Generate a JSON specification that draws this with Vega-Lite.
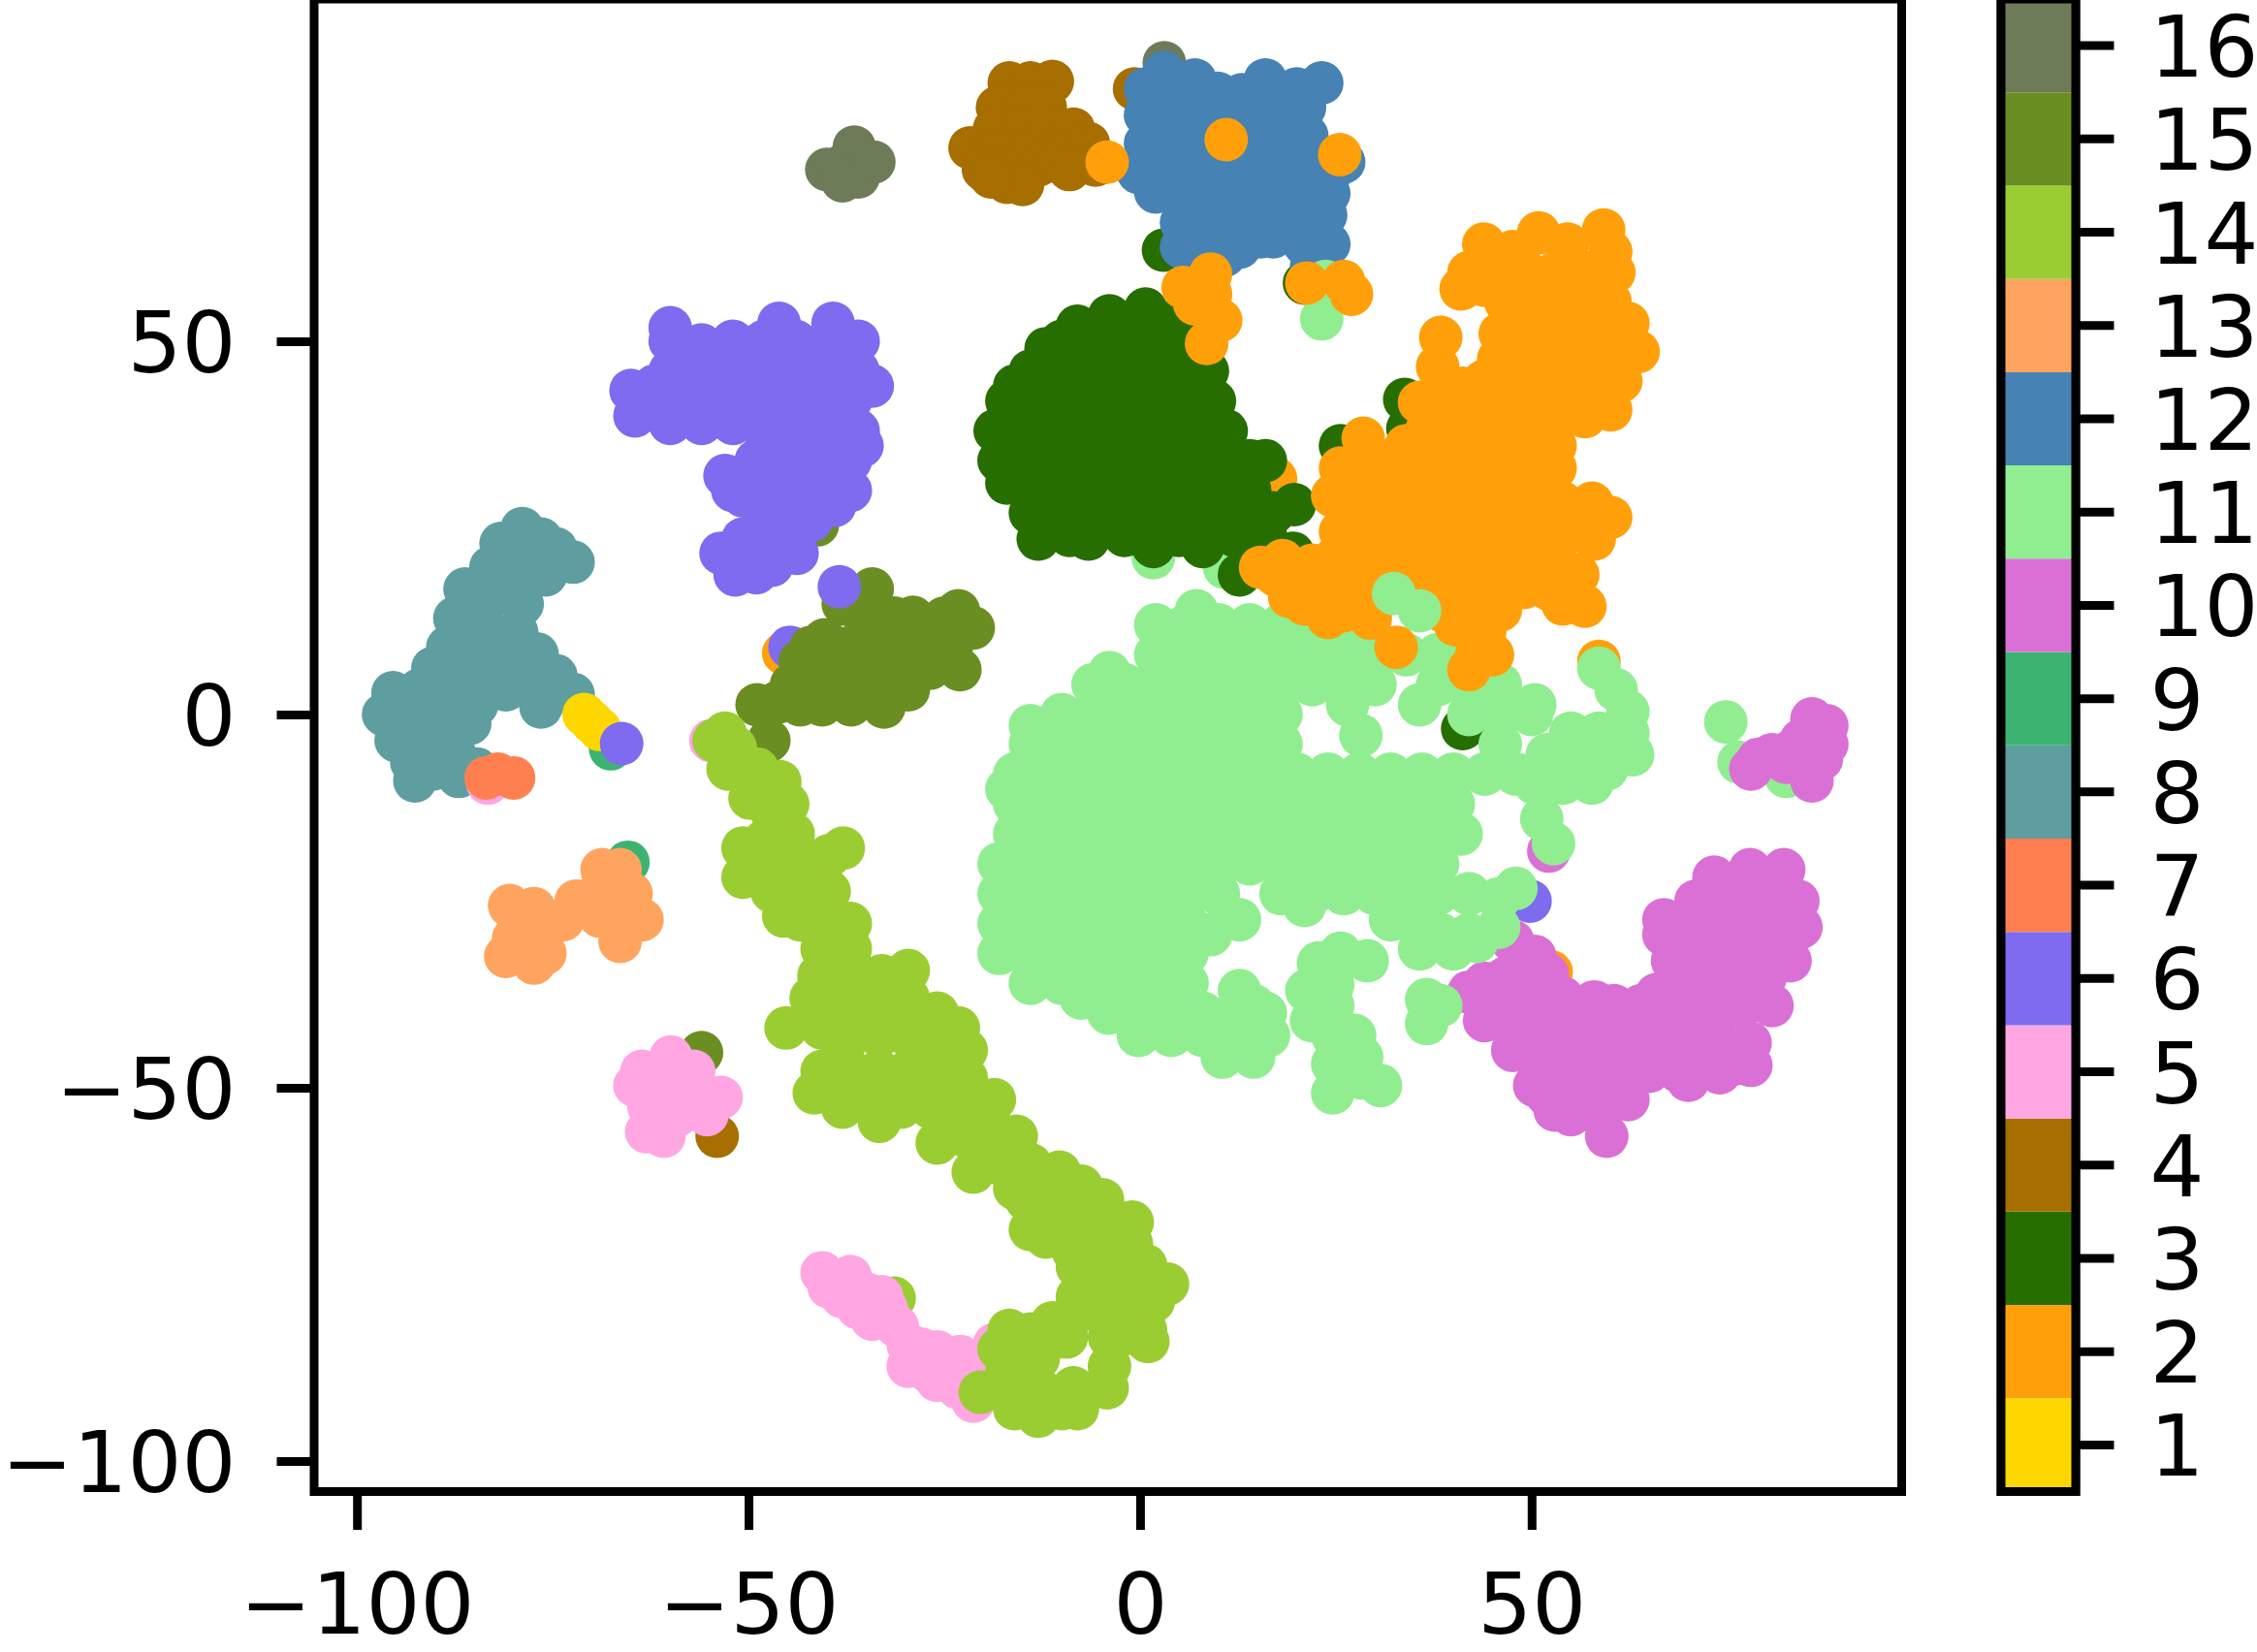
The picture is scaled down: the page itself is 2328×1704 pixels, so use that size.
{"$schema":"https://vega.github.io/schema/vega-lite/v6.json","background":"white","padding":{"left":-4,"top":-10,"right":0,"bottom":0},"bounds":"flush","spacing":102,
"config":{"axis":{"labelFont":"DejaVu Sans","labelFontSize":88,"labelColor":"black","labelLimit":500,"domain":false,"grid":false,"tickColor":"black","tickWidth":9,"tickSize":39,"title":null,"tickRound":false},"view":{"stroke":"black","strokeWidth":9}},
"hconcat":[
{"width":1637.5,"height":1539.5,
"data":{"values":[
{"c":8,"x":-78.9,"y":24.9},{"c":8,"x":-81.6,"y":22.9},{"c":8,"x":-76.5,"y":23.5},{"c":8,"x":-72.4,"y":20.4},{"c":8,"x":-74.6,"y":22.2},{"c":8,"x":-82.9,"y":19.7},{"c":8,"x":-79.2,"y":19.7},{"c":8,"x":-75.9,"y":18.7},{"c":8,"x":-86.2,"y":16.8},{"c":8,"x":-82.9,"y":15.8},{"c":8,"x":-78.9,"y":14.8},{"c":8,"x":-87.5,"y":12.9},{"c":8,"x":-83.8,"y":11.9},{"c":8,"x":-79.6,"y":11},{"c":8,"x":-88.4,"y":9},{"c":8,"x":-84.7,"y":8.1},{"c":8,"x":-81,"y":8.1},{"c":8,"x":-77,"y":8.1},{"c":8,"x":-90.3,"y":6.2},{"c":8,"x":-86.2,"y":5.2},{"c":8,"x":-81.9,"y":5.2},{"c":8,"x":-78.3,"y":5.2},{"c":8,"x":-74.6,"y":5.2},{"c":8,"x":-95.4,"y":2.9},{"c":8,"x":-92,"y":3.3},{"c":8,"x":-88.4,"y":2.3},{"c":8,"x":-84.7,"y":1.3},{"c":8,"x":-81,"y":3.3},{"c":8,"x":-72.4,"y":2.7},{"c":8,"x":-76.5,"y":1},{"c":8,"x":-96.6,"y":0},{"c":8,"x":-93,"y":-0.6},{"c":8,"x":-89.3,"y":-1.5},{"c":8,"x":-85.6,"y":-1.2},{"c":8,"x":-95,"y":-3.5},{"c":8,"x":-91.2,"y":-4.4},{"c":8,"x":-87.5,"y":-5.4},{"c":8,"x":-93,"y":-6.4},{"c":8,"x":-92.6,"y":-8.9},{"c":8,"x":-87,"y":-8.3},{"c":8,"x":-84.7,"y":-7.3},{"c":8,"x":-90.3,"y":-7.3},
{"c":5,"x":-83.3,"y":-9.2},{"c":7,"x":-83.5,"y":-8.5},{"c":7,"x":-82,"y":-8},{"c":7,"x":-80,"y":-8.5},
{"c":9,"x":-67.6,"y":-4.6},{"c":1,"x":-71,"y":0},{"c":1,"x":-70,"y":-1},{"c":1,"x":-69,"y":-2},{"c":6,"x":-66.2,"y":-3.9},
{"c":16,"x":-40,"y":73},{"c":16,"x":-38,"y":73.5},{"c":16,"x":-36.5,"y":76},{"c":16,"x":-36,"y":72},{"c":16,"x":-34,"y":74},{"c":16,"x":-38,"y":71.5},{"c":16,"x":3.1,"y":87.3},
{"c":9,"x":-65.4,"y":-19.8},
{"c":13,"x":-80.5,"y":-25.6},{"c":13,"x":-77.4,"y":-26},{"c":13,"x":-76.5,"y":-29.5},{"c":13,"x":-77.4,"y":-33.3},{"c":13,"x":-81,"y":-32.4},{"c":13,"x":-78.9,"y":-30.4},{"c":13,"x":-73.7,"y":-27.5},{"c":13,"x":-68.7,"y":-20.8},{"c":13,"x":-66.4,"y":-20.8},{"c":13,"x":-70,"y":-24.7},{"c":13,"x":-66.4,"y":-24},{"c":13,"x":-63.6,"y":-27.5},{"c":13,"x":-66.4,"y":-30.4},{"c":13,"x":-66.4,"y":-27.5},{"c":13,"x":-79.5,"y":-27},{"c":13,"x":-76,"y":-32},{"c":13,"x":-72,"y":-25},{"c":13,"x":-69,"y":-27},{"c":13,"x":-65,"y":-24},{"c":13,"x":-80,"y":-30},
{"c":15,"x":-41.2,"y":25.4},
{"c":6,"x":-60,"y":51.8},{"c":6,"x":-46.1,"y":52.4},{"c":6,"x":-39.2,"y":52.4},{"c":6,"x":-60,"y":50},{"c":6,"x":-56,"y":49.5},{"c":6,"x":-52,"y":50},{"c":6,"x":-48,"y":50},{"c":6,"x":-44,"y":50},{"c":6,"x":-40,"y":50},{"c":6,"x":-36,"y":50},{"c":6,"x":-60,"y":46},{"c":6,"x":-56,"y":46},{"c":6,"x":-52,"y":46},{"c":6,"x":-48,"y":46},{"c":6,"x":-44,"y":46},{"c":6,"x":-40,"y":46},{"c":6,"x":-36,"y":46},{"c":6,"x":-65,"y":43.4},{"c":6,"x":-62,"y":44},{"c":6,"x":-61,"y":42},{"c":6,"x":-57,"y":42},{"c":6,"x":-53,"y":42},{"c":6,"x":-49,"y":42},{"c":6,"x":-45,"y":42},{"c":6,"x":-41,"y":42},{"c":6,"x":-37,"y":42},{"c":6,"x":-34.2,"y":44},{"c":6,"x":-64.5,"y":40},{"c":6,"x":-60,"y":39},{"c":6,"x":-56,"y":39},{"c":6,"x":-52,"y":39},{"c":6,"x":-48,"y":38},{"c":6,"x":-44,"y":38},{"c":6,"x":-40,"y":38},{"c":6,"x":-36,"y":38},{"c":6,"x":-49,"y":34},{"c":6,"x":-45,"y":34},{"c":6,"x":-41,"y":34},{"c":6,"x":-37,"y":34},{"c":6,"x":-35.5,"y":36},{"c":6,"x":-53,"y":32},{"c":6,"x":-52,"y":30},{"c":6,"x":-48,"y":30},{"c":6,"x":-44,"y":30},{"c":6,"x":-40,"y":30},{"c":6,"x":-37,"y":30},{"c":6,"x":-50.7,"y":29.3},{"c":6,"x":-48,"y":26},{"c":6,"x":-46,"y":26},{"c":6,"x":-42,"y":26},{"c":6,"x":-39,"y":28},{"c":6,"x":-43.8,"y":21.6},{"c":6,"x":-53.5,"y":21.6},{"c":6,"x":-51.7,"y":18.7},{"c":6,"x":-49.8,"y":20.6},{"c":6,"x":-47,"y":23.5},{"c":6,"x":-45.2,"y":24.5},{"c":6,"x":-50.7,"y":23.5},{"c":6,"x":-47,"y":20},{"c":6,"x":-49,"y":19},{"c":6,"x":-52,"y":21},
{"c":2,"x":-45.5,"y":8.2},{"c":6,"x":-44.7,"y":9},
{"c":15,"x":-48.9,"y":1.3},{"c":15,"x":-46.1,"y":1.7},{"c":15,"x":-43.4,"y":1.3},{"c":15,"x":-42.5,"y":4.2},{"c":15,"x":-39.7,"y":5.2},{"c":15,"x":-40.3,"y":10},{"c":15,"x":-37.9,"y":14.8},{"c":15,"x":-34.2,"y":16.8},{"c":15,"x":-35.1,"y":12.9},{"c":15,"x":-31.4,"y":12.9},{"c":15,"x":-36.9,"y":9},{"c":15,"x":-33.3,"y":9},{"c":15,"x":-29.6,"y":10},{"c":15,"x":-25,"y":12.9},{"c":15,"x":-23.2,"y":13.9},{"c":15,"x":-21.3,"y":11.6},{"c":15,"x":-24.1,"y":9},{"c":15,"x":-26.8,"y":6.2},{"c":15,"x":-30.5,"y":5.2},{"c":15,"x":-34.2,"y":4.2},{"c":15,"x":-36.9,"y":5.2},{"c":15,"x":-36.9,"y":1.3},{"c":15,"x":-32.7,"y":1},{"c":15,"x":-29.6,"y":3.3},{"c":15,"x":-40.6,"y":1.3},{"c":15,"x":-43.4,"y":7.1},{"c":15,"x":-42,"y":9},{"c":15,"x":-27,"y":9},{"c":15,"x":-31,"y":9},{"c":15,"x":-47.4,"y":-3.5},{"c":15,"x":-41,"y":7},{"c":15,"x":-44.5,"y":4},{"c":15,"x":-35,"y":3},{"c":15,"x":-28,"y":6},{"c":15,"x":-23,"y":6},{"c":15,"x":-29,"y":13},{"c":15,"x":-27,"y":11.5},{"c":6,"x":-38.4,"y":17.1},
{"c":15,"x":-56,"y":-45.3},{"c":4,"x":-54,"y":-56.5},
{"c":5,"x":-63.6,"y":-47.8},{"c":5,"x":-59.9,"y":-45.9},{"c":5,"x":-64.5,"y":-49.7},{"c":5,"x":-60.8,"y":-49.7},{"c":5,"x":-57,"y":-50.7},{"c":5,"x":-53.5,"y":-51.3},{"c":5,"x":-62.7,"y":-52.6},{"c":5,"x":-59,"y":-53.6},{"c":5,"x":-63,"y":-55.9},{"c":5,"x":-60.8,"y":-56.5},{"c":5,"x":-55.3,"y":-53.6},{"c":5,"x":-57,"y":-47.8},
{"c":14,"x":-31.4,"y":-78.2},{"c":5,"x":-54.8,"y":-3.5},
{"c":5,"x":-40.6,"y":-74.8},{"c":5,"x":-37,"y":-75.3},{"c":5,"x":-39.7,"y":-76.7},{"c":5,"x":-35,"y":-77.6},{"c":5,"x":-32.4,"y":-79.6},{"c":5,"x":-34.2,"y":-81},{"c":5,"x":-29.6,"y":-84.4},{"c":5,"x":-25.9,"y":-85.4},{"c":5,"x":-29.6,"y":-87.3},{"c":5,"x":-25.9,"y":-89.2},{"c":5,"x":-23.2,"y":-90.2},{"c":5,"x":-21.3,"y":-92},{"c":5,"x":-18.6,"y":-84.4},{"c":5,"x":-21.5,"y":-87},{"c":5,"x":-38,"y":-78},{"c":5,"x":-33,"y":-78},{"c":5,"x":-31,"y":-82},{"c":5,"x":-27,"y":-88},{"c":5,"x":-24,"y":-88},{"c":5,"x":-28,"y":-85},{"c":5,"x":-23,"y":-86},{"c":5,"x":-36,"y":-79.5},
{"c":14,"x":-54.4,"y":-3.5},{"c":14,"x":-51.7,"y":-4.4},{"c":14,"x":-53,"y":-2.5},{"c":14,"x":-52.6,"y":-7.3},{"c":14,"x":-48.9,"y":-7.3},{"c":14,"x":-46,"y":-9},{"c":14,"x":-45,"y":-12},{"c":14,"x":-49.8,"y":-11.2},{"c":14,"x":-47,"y":-13.1},{"c":14,"x":-50.7,"y":-17.9},{"c":14,"x":-48,"y":-17},{"c":14,"x":-44.3,"y":-16},{"c":14,"x":-50.7,"y":-21.8},{"c":14,"x":-48,"y":-20.8},{"c":14,"x":-46,"y":-20},{"c":14,"x":-41.5,"y":-21},{"c":14,"x":-43.4,"y":-19.8},{"c":14,"x":-39.7,"y":-18.9},{"c":14,"x":-37.9,"y":-17.9},{"c":14,"x":-47,"y":-23.7},{"c":14,"x":-43.4,"y":-24.7},{"c":14,"x":-39.7,"y":-23.7},{"c":14,"x":-45.5,"y":-27},{"c":14,"x":-43.4,"y":-27.5},{"c":14,"x":-39.7,"y":-27.5},{"c":14,"x":-37,"y":-28},{"c":14,"x":-40.6,"y":-31.4},{"c":14,"x":-37,"y":-31.4},{"c":14,"x":-38.8,"y":-35.3},{"c":14,"x":-41,"y":-35},{"c":14,"x":-42,"y":-38},{"c":14,"x":-35,"y":-35.3},{"c":14,"x":-33,"y":-35},{"c":14,"x":-31.4,"y":-35.3},{"c":14,"x":-29.6,"y":-34.3},{"c":14,"x":-45.2,"y":-42},{"c":14,"x":-39.7,"y":-39},{"c":14,"x":-40.6,"y":-42},{"c":14,"x":-37,"y":-39},{"c":14,"x":-33.3,"y":-39},{"c":14,"x":-29.6,"y":-38},{"c":14,"x":-25.9,"y":-40},{"c":14,"x":-23.2,"y":-42},{"c":14,"x":-37,"y":-43},{"c":14,"x":-33.3,"y":-43},{"c":14,"x":-29.6,"y":-43},{"c":14,"x":-25.9,"y":-44},{"c":14,"x":-22.2,"y":-45},{"c":14,"x":-38,"y":-45},{"c":14,"x":-31,"y":-41},{"c":14,"x":-27,"y":-41},{"c":14,"x":-41.6,"y":-50.7},{"c":14,"x":-40.6,"y":-47.8},{"c":14,"x":-37,"y":-47.8},{"c":14,"x":-33.3,"y":-47.8},{"c":14,"x":-29.6,"y":-47.8},{"c":14,"x":-25.9,"y":-47.8},{"c":14,"x":-22.2,"y":-48.7},{"c":14,"x":-18.6,"y":-51.6},{"c":14,"x":-38,"y":-52.6},{"c":14,"x":-34.2,"y":-52.6},{"c":14,"x":-33.3,"y":-54.5},{"c":14,"x":-30.5,"y":-52.6},{"c":14,"x":-26.8,"y":-52.6},{"c":14,"x":-23.2,"y":-52.6},{"c":14,"x":-19.5,"y":-53.6},{"c":14,"x":-25.9,"y":-57.4},{"c":14,"x":-22.2,"y":-56.5},{"c":14,"x":-18.6,"y":-56.5},{"c":14,"x":-15.8,"y":-56.5},{"c":14,"x":-21.3,"y":-61.3},{"c":14,"x":-19,"y":-59},{"c":14,"x":-17.6,"y":-60.3},{"c":14,"x":-14,"y":-60.3},{"c":14,"x":-10.3,"y":-61.3},{"c":14,"x":-16,"y":-63.5},{"c":14,"x":-14,"y":-69},{"c":14,"x":-14.5,"y":-65},{"c":14,"x":-11.2,"y":-64.2},{"c":14,"x":-7.5,"y":-63.2},{"c":14,"x":-4.8,"y":-65},{"c":14,"x":-8,"y":-66},{"c":14,"x":-10.3,"y":-68},{"c":14,"x":-6.6,"y":-68},{"c":14,"x":-2.9,"y":-68},{"c":14,"x":-1,"y":-68},{"c":14,"x":-5,"y":-69},{"c":14,"x":-12,"y":-70},{"c":14,"x":-8.5,"y":-71.9},{"c":14,"x":-4.8,"y":-71.9},{"c":14,"x":-1.1,"y":-70.9},{"c":14,"x":0.7,"y":-73.8},{"c":14,"x":-8,"y":-74},{"c":14,"x":-5.7,"y":-75.7},{"c":14,"x":-2,"y":-75.7},{"c":14,"x":0,"y":-76},{"c":14,"x":3.5,"y":-76.3},{"c":14,"x":1.7,"y":-78.6},{"c":14,"x":-6,"y":-78},{"c":14,"x":-8,"y":-80},{"c":14,"x":-8,"y":-78},{"c":14,"x":-4.8,"y":-79.6},{"c":14,"x":-1.1,"y":-79.6},{"c":14,"x":0.7,"y":-82.5},{"c":14,"x":-2,"y":-83},{"c":14,"x":1,"y":-84},{"c":14,"x":-3.9,"y":-83.4},{"c":14,"x":-3.9,"y":-87.3},{"c":14,"x":-4.2,"y":-90.2},{"c":14,"x":-8.5,"y":-90.2},{"c":14,"x":-11.2,"y":-81.5},{"c":14,"x":-14,"y":-83},{"c":14,"x":-16.7,"y":-82.5},{"c":14,"x":-9.4,"y":-83.4},{"c":14,"x":-12,"y":-84},{"c":14,"x":-13,"y":-86.3},{"c":14,"x":-13,"y":-90.2},{"c":14,"x":-15.8,"y":-90.2},{"c":14,"x":-13,"y":-94},{"c":14,"x":-20.4,"y":-90.8},{"c":14,"x":-18,"y":-85},{"c":14,"x":-17,"y":-88},{"c":14,"x":-10,"y":-93},{"c":14,"x":-8,"y":-93},{"c":14,"x":-16,"y":-93},
{"c":4,"x":-16.7,"y":84.6},{"c":4,"x":-14,"y":84.6},{"c":4,"x":-11.2,"y":84.8},{"c":4,"x":-18.2,"y":81.3},{"c":4,"x":-14.9,"y":81.3},{"c":4,"x":-12.1,"y":81.3},{"c":4,"x":-18.6,"y":78.4},{"c":4,"x":-14.9,"y":78.4},{"c":4,"x":-11.2,"y":78.4},{"c":4,"x":-8.5,"y":78.4},{"c":4,"x":-6.6,"y":76.5},{"c":4,"x":-21.7,"y":75.9},{"c":4,"x":-18.6,"y":75.5},{"c":4,"x":-14.9,"y":75},{"c":4,"x":-11.2,"y":75},{"c":4,"x":-8.5,"y":75.5},{"c":4,"x":-20,"y":73},{"c":4,"x":-16.7,"y":72.6},{"c":4,"x":-13,"y":73.6},{"c":4,"x":-10.3,"y":74},{"c":4,"x":-17,"y":71.3},{"c":4,"x":-5.7,"y":73.6},{"c":4,"x":-0.7,"y":83.8},{"c":4,"x":-15,"y":71},{"c":4,"x":-19,"y":72},{"c":4,"x":-9,"y":73},
{"c":2,"x":17.3,"y":31.6},{"c":3,"x":41.2,"y":-1.9},{"c":3,"x":3,"y":62.2},{"c":3,"x":21,"y":57.8},{"c":3,"x":33.8,"y":42.2},{"c":3,"x":34.2,"y":38.3},{"c":3,"x":25.6,"y":36},{"c":3,"x":8,"y":51.8},
{"c":6,"x":49.8,"y":-25},{"c":2,"x":58.6,"y":7.1},{"c":2,"x":52.5,"y":-34.5},{"c":10,"x":52,"y":-34.8},{"c":10,"x":52.2,"y":-18.3},
{"c":10,"x":47.6,"y":-30.4},{"c":10,"x":50.4,"y":-32.4},{"c":10,"x":46.7,"y":-35.3},{"c":10,"x":50.4,"y":-36.2},{"c":10,"x":42,"y":-37.2},{"c":10,"x":44.9,"y":-38.2},{"c":10,"x":52,"y":-39},{"c":10,"x":44,"y":-41},{"c":10,"x":47.6,"y":-41},{"c":10,"x":50.4,"y":-42},{"c":10,"x":55,"y":-42},{"c":10,"x":58.6,"y":-41},{"c":10,"x":62.3,"y":-40},{"c":10,"x":66,"y":-40},{"c":10,"x":69.7,"y":-38},{"c":10,"x":47.6,"y":-45},{"c":10,"x":51.3,"y":-46},{"c":10,"x":55,"y":-46},{"c":10,"x":58.6,"y":-45},{"c":10,"x":62.3,"y":-45},{"c":10,"x":66,"y":-44},{"c":10,"x":69.7,"y":-43},{"c":10,"x":73.3,"y":-42},{"c":10,"x":50.4,"y":-49.7},{"c":10,"x":54,"y":-49.7},{"c":10,"x":57.7,"y":-49.7},{"c":10,"x":61.4,"y":-48.7},{"c":10,"x":65,"y":-47.8},{"c":10,"x":68.8,"y":-47.8},{"c":10,"x":72.4,"y":-46},{"c":10,"x":76.1,"y":-46.8},{"c":10,"x":77.9,"y":-44},{"c":10,"x":55,"y":-53.6},{"c":10,"x":58.6,"y":-53.6},{"c":10,"x":62.3,"y":-51.6},{"c":10,"x":59.6,"y":-56.5},{"c":10,"x":80.7,"y":-39},{"c":10,"x":77,"y":-39},{"c":10,"x":73.3,"y":-39},{"c":10,"x":79.8,"y":-35.3},{"c":10,"x":76.1,"y":-35.3},{"c":10,"x":72.4,"y":-35.3},{"c":10,"x":68.8,"y":-34.3},{"c":10,"x":82.5,"y":-31.4},{"c":10,"x":78.8,"y":-31.4},{"c":10,"x":75.2,"y":-31.4},{"c":10,"x":71.5,"y":-31.4},{"c":10,"x":84.4,"y":-28.5},{"c":10,"x":80.7,"y":-27.5},{"c":10,"x":77,"y":-27.5},{"c":10,"x":73.3,"y":-27.5},{"c":10,"x":66.9,"y":-27.5},{"c":10,"x":66.9,"y":-29.5},{"c":10,"x":73.3,"y":-23.7},{"c":10,"x":73.3,"y":-21.8},{"c":10,"x":77.9,"y":-20.8},{"c":10,"x":82.2,"y":-20.8},{"c":10,"x":78.8,"y":-24},{"c":10,"x":82.5,"y":-25.6},{"c":10,"x":60.5,"y":-39},
{"c":10,"x":54,"y":-38},{"c":10,"x":58,"y":-38.5},{"c":10,"x":64,"y":-39},{"c":10,"x":66,"y":-37.5},{"c":10,"x":74,"y":-48},{"c":10,"x":70,"y":-49},{"c":10,"x":78,"y":-47},{"c":10,"x":83,"y":-33},{"c":10,"x":70,"y":-39},{"c":10,"x":68,"y":-33},{"c":10,"x":64,"y":-42},{"c":10,"x":46,"y":-39},{"c":10,"x":44,"y":-36},{"c":10,"x":58,"y":-51},{"c":10,"x":53,"y":-53},{"c":10,"x":52,"y":-51},{"c":10,"x":68,"y":-30},{"c":10,"x":70,"y":-28.5},{"c":10,"x":71,"y":-25},{"c":10,"x":76,"y":-23},{"c":10,"x":81,"y":-22},{"c":10,"x":84,"y":-25},
{"c":11,"x":74.8,"y":-1},{"c":11,"x":76.5,"y":-6.4},{"c":11,"x":82.5,"y":-8.3},
{"c":10,"x":78,"y":-7.3},{"c":10,"x":80.7,"y":-5.4},{"c":10,"x":84.4,"y":-3.5},{"c":10,"x":85.8,"y":-0.6},{"c":10,"x":87.7,"y":-1.5},{"c":10,"x":87.7,"y":-4},{"c":10,"x":85.3,"y":-6.4},{"c":10,"x":85.8,"y":-8.9},{"c":10,"x":82.5,"y":-6.4},{"c":10,"x":79,"y":-6},{"c":10,"x":83,"y":-5},{"c":10,"x":87,"y":-6},
{"c":11,"x":1.7,"y":21},{"c":11,"x":10.8,"y":19.7},{"c":11,"x":16.4,"y":21.6},{"c":11,"x":12.7,"y":19.7},
{"c":11,"x":7.2,"y":13.9},{"c":11,"x":2,"y":12},{"c":11,"x":6,"y":12},{"c":11,"x":10,"y":12},{"c":11,"x":14,"y":12},{"c":11,"x":18,"y":12},{"c":11,"x":22,"y":12},{"c":11,"x":26,"y":12},
{"c":11,"x":-3.9,"y":5.6},{"c":11,"x":2,"y":8},{"c":11,"x":6,"y":8},{"c":11,"x":10,"y":8},{"c":11,"x":14,"y":8},{"c":11,"x":18,"y":8},{"c":11,"x":22,"y":8},{"c":11,"x":26,"y":8},{"c":11,"x":30,"y":8},{"c":11,"x":34,"y":8},{"c":11,"x":38,"y":8},{"c":11,"x":42,"y":8},
{"c":11,"x":-6,"y":4},{"c":11,"x":-2,"y":4},{"c":11,"x":2,"y":4},{"c":11,"x":6,"y":4},{"c":11,"x":10,"y":4},{"c":11,"x":14,"y":4},{"c":11,"x":18,"y":4},{"c":11,"x":22,"y":4},{"c":11,"x":26,"y":4},{"c":11,"x":30,"y":4},{"c":11,"x":38,"y":4},{"c":11,"x":42,"y":4},{"c":11,"x":46,"y":4},
{"c":11,"x":-14,"y":-1.5},{"c":11,"x":-10,"y":0},{"c":11,"x":-6,"y":0},{"c":11,"x":-2,"y":0},{"c":11,"x":2,"y":0},{"c":11,"x":6,"y":0},{"c":11,"x":10,"y":0},{"c":11,"x":14,"y":0},{"c":11,"x":18,"y":0},{"c":11,"x":26.5,"y":1.3},{"c":11,"x":35.7,"y":1.3},{"c":11,"x":42,"y":0},{"c":11,"x":46,"y":0},{"c":11,"x":50,"y":0},{"c":11,"x":50.4,"y":1.3},
{"c":11,"x":58.6,"y":6.2},{"c":11,"x":60.8,"y":3.3},{"c":11,"x":62.3,"y":0.4},{"c":11,"x":62.3,"y":-2.5},{"c":11,"x":62.9,"y":-5.4},{"c":11,"x":55,"y":-2.5},{"c":11,"x":58.6,"y":-2.5},{"c":11,"x":52,"y":-5.4},{"c":11,"x":55.9,"y":-6.4},{"c":11,"x":59.6,"y":-7.3},{"c":11,"x":50.4,"y":-9.2},{"c":11,"x":54,"y":-9.2},{"c":11,"x":57.7,"y":-9.2},{"c":11,"x":51.3,"y":-14},{"c":11,"x":52.8,"y":-17.3},
{"c":11,"x":-14,"y":-4},{"c":11,"x":-10,"y":-4},{"c":11,"x":-6,"y":-4},{"c":11,"x":-2,"y":-4},{"c":11,"x":2,"y":-4},{"c":11,"x":6,"y":-4},{"c":11,"x":10,"y":-4},{"c":11,"x":14,"y":-4},{"c":11,"x":18,"y":-4},{"c":11,"x":28.2,"y":-2.8},{"c":11,"x":46,"y":-4},
{"c":11,"x":-16,"y":-8},{"c":11,"x":-12,"y":-8},{"c":11,"x":-8,"y":-8},{"c":11,"x":-4,"y":-8},{"c":11,"x":0,"y":-8},{"c":11,"x":4,"y":-8},{"c":11,"x":8,"y":-8},{"c":11,"x":12,"y":-8},{"c":11,"x":16,"y":-8},{"c":11,"x":20,"y":-8},{"c":11,"x":24,"y":-8},{"c":11,"x":28,"y":-8},{"c":11,"x":32,"y":-8},{"c":11,"x":36,"y":-8},{"c":11,"x":40,"y":-8},{"c":11,"x":44,"y":-8},{"c":11,"x":48,"y":-8},
{"c":11,"x":-17,"y":-10},{"c":11,"x":-16,"y":-12},{"c":11,"x":-12,"y":-12},{"c":11,"x":-8,"y":-12},{"c":11,"x":-4,"y":-12},{"c":11,"x":0,"y":-12},{"c":11,"x":4,"y":-12},{"c":11,"x":8,"y":-12},{"c":11,"x":12,"y":-12},{"c":11,"x":16,"y":-12},{"c":11,"x":20,"y":-12},{"c":11,"x":24,"y":-12},{"c":11,"x":28,"y":-12},{"c":11,"x":32,"y":-12},{"c":11,"x":36,"y":-12},{"c":11,"x":40,"y":-12},
{"c":11,"x":-16,"y":-16},{"c":11,"x":-12,"y":-16},{"c":11,"x":-8,"y":-16},{"c":11,"x":-4,"y":-16},{"c":11,"x":0,"y":-16},{"c":11,"x":4,"y":-16},{"c":11,"x":7,"y":-16},{"c":11,"x":10,"y":-16},{"c":11,"x":14,"y":-16},{"c":11,"x":18,"y":-16},{"c":11,"x":22,"y":-16},{"c":11,"x":26,"y":-16},{"c":11,"x":30,"y":-16},{"c":11,"x":34,"y":-16},{"c":11,"x":38,"y":-16},{"c":11,"x":41,"y":-16},
{"c":11,"x":-18,"y":-20},{"c":11,"x":-14,"y":-20},{"c":11,"x":-10,"y":-20},{"c":11,"x":-6,"y":-20},{"c":11,"x":-2,"y":-20},{"c":11,"x":2,"y":-20},{"c":11,"x":6,"y":-20},{"c":11,"x":10,"y":-20},{"c":11,"x":14,"y":-20},{"c":11,"x":18,"y":-20},{"c":11,"x":22,"y":-20},{"c":11,"x":26,"y":-20},{"c":11,"x":30,"y":-20},{"c":11,"x":34,"y":-20},{"c":11,"x":38,"y":-20},
{"c":11,"x":-18,"y":-24},{"c":11,"x":-14,"y":-24},{"c":11,"x":-10,"y":-24},{"c":11,"x":-6,"y":-24},{"c":11,"x":-2,"y":-24},{"c":11,"x":2,"y":-24},{"c":11,"x":6,"y":-24},{"c":11,"x":10,"y":-24},{"c":11,"x":18,"y":-24},{"c":11,"x":22,"y":-24},{"c":11,"x":26,"y":-24},{"c":11,"x":30,"y":-24},{"c":11,"x":34,"y":-24},{"c":11,"x":38,"y":-24},{"c":11,"x":42,"y":-24},{"c":11,"x":45.8,"y":-24.7},{"c":11,"x":48,"y":-23.3},
{"c":11,"x":-18,"y":-28},{"c":11,"x":-14,"y":-28},{"c":11,"x":-10,"y":-28},{"c":11,"x":-6,"y":-28},{"c":11,"x":-2,"y":-28},{"c":11,"x":2,"y":-28},{"c":11,"x":6,"y":-28},{"c":11,"x":9,"y":-29.5},{"c":11,"x":12.7,"y":-27.5},{"c":11,"x":21,"y":-25.6},{"c":11,"x":32,"y":-27.5},{"c":11,"x":35.7,"y":-28.5},{"c":11,"x":38.4,"y":-29.5},{"c":11,"x":42,"y":-29.5},{"c":11,"x":45.8,"y":-28.5},
{"c":11,"x":-18,"y":-32},{"c":11,"x":-14,"y":-32},{"c":11,"x":-10,"y":-32},{"c":11,"x":-6,"y":-32},{"c":11,"x":-2,"y":-32},{"c":11,"x":2,"y":-32},{"c":11,"x":6,"y":-32},{"c":11,"x":40,"y":-31.4},{"c":11,"x":43,"y":-30.4},{"c":11,"x":35.7,"y":-31.4},
{"c":11,"x":-14,"y":-36},{"c":11,"x":-10,"y":-36},{"c":11,"x":-6,"y":-36},{"c":11,"x":-2,"y":-36},{"c":11,"x":2,"y":-36},{"c":11,"x":6,"y":-36},{"c":11,"x":-7.5,"y":-38},{"c":11,"x":-4,"y":-40},{"c":11,"x":0,"y":-40},{"c":11,"x":4,"y":-40},{"c":11,"x":8,"y":-40},{"c":11,"x":12,"y":-40},{"c":11,"x":16,"y":-40},{"c":11,"x":12.7,"y":-37},{"c":11,"x":14.5,"y":-39},{"c":11,"x":-0.2,"y":-43},{"c":11,"x":4,"y":-43},{"c":11,"x":8,"y":-43},{"c":11,"x":12,"y":-43},{"c":11,"x":16.4,"y":-43},{"c":11,"x":10.5,"y":-45.9},{"c":11,"x":14.5,"y":-45.9},
{"c":11,"x":25.6,"y":-32},{"c":11,"x":22.8,"y":-33.3},{"c":11,"x":21.3,"y":-37},{"c":11,"x":24.6,"y":-36.2},{"c":11,"x":29,"y":-33},{"c":11,"x":21.9,"y":-41},{"c":11,"x":24.6,"y":-39},{"c":11,"x":24.6,"y":-43},{"c":11,"x":27.4,"y":-43},{"c":11,"x":24.6,"y":-46.8},{"c":11,"x":28.3,"y":-45.9},{"c":11,"x":24.6,"y":-50.7},{"c":11,"x":28.3,"y":-48.7},{"c":11,"x":30.7,"y":-49.7},{"c":11,"x":36.6,"y":-38.2},{"c":11,"x":36.6,"y":-41.4},{"c":11,"x":38.4,"y":-39},
{"c":3,"x":-3.9,"y":53.4},{"c":3,"x":0.7,"y":54.3},{"c":3,"x":-8,"y":52},{"c":3,"x":5,"y":53},{"c":3,"x":-12,"y":49},{"c":3,"x":-10,"y":50},{"c":3,"x":-6,"y":50},{"c":3,"x":-2,"y":50},{"c":3,"x":2,"y":50},{"c":3,"x":6,"y":50},{"c":3,"x":-14,"y":46},{"c":3,"x":-16,"y":44},{"c":3,"x":-10,"y":46},{"c":3,"x":-6,"y":46},{"c":3,"x":-2,"y":46},{"c":3,"x":2,"y":46},{"c":3,"x":6,"y":46},{"c":3,"x":8.6,"y":46},{"c":3,"x":-17,"y":42},{"c":3,"x":-14,"y":42},{"c":3,"x":-10,"y":42},{"c":3,"x":-6,"y":42},{"c":3,"x":-2,"y":42},{"c":3,"x":2,"y":42},{"c":3,"x":6,"y":42},{"c":3,"x":9.5,"y":42},{"c":3,"x":-18.5,"y":38},{"c":3,"x":-15,"y":38},{"c":3,"x":-11,"y":38},{"c":3,"x":-7,"y":38},{"c":3,"x":-3,"y":38},{"c":3,"x":1,"y":38},{"c":3,"x":5,"y":38},{"c":3,"x":9,"y":38},{"c":3,"x":11,"y":38},{"c":3,"x":-18,"y":34},{"c":3,"x":-14,"y":34},{"c":3,"x":-10,"y":34},{"c":3,"x":-6,"y":34},{"c":3,"x":-2,"y":34},{"c":3,"x":2,"y":34},{"c":3,"x":6,"y":34},{"c":3,"x":10,"y":34},{"c":3,"x":14,"y":34},{"c":3,"x":16,"y":34},{"c":3,"x":-17,"y":31},{"c":3,"x":-14,"y":30},{"c":3,"x":-10,"y":30},{"c":3,"x":-6,"y":30},{"c":3,"x":-2,"y":30},{"c":3,"x":2,"y":30},{"c":3,"x":6,"y":30},{"c":3,"x":10,"y":30},{"c":3,"x":14,"y":30},{"c":3,"x":-14,"y":27},{"c":3,"x":-10,"y":27},{"c":3,"x":-6,"y":27},{"c":3,"x":-2,"y":27},{"c":3,"x":2,"y":27},{"c":3,"x":6,"y":27},{"c":3,"x":10,"y":27},{"c":3,"x":14,"y":27},{"c":3,"x":17,"y":27},{"c":3,"x":19.7,"y":28.1},{"c":3,"x":-13,"y":23.5},{"c":3,"x":-9,"y":24},{"c":3,"x":-6.6,"y":23.5},{"c":3,"x":-2,"y":24},{"c":3,"x":1.7,"y":22.5},{"c":3,"x":5,"y":24},{"c":3,"x":8,"y":22.5},{"c":3,"x":12,"y":24},{"c":3,"x":16,"y":24},{"c":3,"x":12.7,"y":18.7},{"c":3,"x":19.5,"y":21.6},{"c":3,"x":20,"y":19.7},
{"c":12,"x":3.1,"y":86},{"c":12,"x":0.7,"y":83.8},{"c":12,"x":3.9,"y":83.2},{"c":12,"x":7,"y":85},{"c":12,"x":9.9,"y":83.2},{"c":12,"x":13,"y":83},{"c":12,"x":16,"y":85},{"c":12,"x":16.4,"y":84.2},{"c":12,"x":20,"y":83.8},{"c":12,"x":23.2,"y":84.6},{"c":12,"x":7.2,"y":81.3},{"c":12,"x":10.8,"y":80.7},{"c":12,"x":14.5,"y":81.9},{"c":12,"x":18.2,"y":81.9},{"c":12,"x":21,"y":81.3},{"c":12,"x":0.7,"y":80.3},{"c":12,"x":0.7,"y":76.5},{"c":12,"x":3.5,"y":78.4},{"c":12,"x":7.2,"y":77.5},{"c":12,"x":10.8,"y":77.5},{"c":12,"x":14.5,"y":78.4},{"c":12,"x":18.2,"y":78.4},{"c":12,"x":21.3,"y":77.5},{"c":12,"x":-0.2,"y":72.6},{"c":12,"x":3.5,"y":73.6},{"c":12,"x":7.2,"y":73.6},{"c":12,"x":10.8,"y":73.6},{"c":12,"x":14.5,"y":74.6},{"c":12,"x":18.2,"y":74.6},{"c":12,"x":21.9,"y":74.2},{"c":12,"x":24.6,"y":73},{"c":12,"x":26,"y":74},{"c":12,"x":2,"y":70},{"c":12,"x":5.3,"y":69.8},{"c":12,"x":9,"y":69.8},{"c":12,"x":12.7,"y":70.7},{"c":12,"x":16.4,"y":70.7},{"c":12,"x":20,"y":70.7},{"c":12,"x":24.1,"y":69.8},{"c":12,"x":5.3,"y":65.9},{"c":12,"x":9,"y":65.9},{"c":12,"x":12.7,"y":66.9},{"c":12,"x":16,"y":67},{"c":12,"x":18,"y":66.5},{"c":12,"x":20,"y":66.9},{"c":12,"x":23.7,"y":66.9},{"c":12,"x":5.3,"y":62.6},{"c":12,"x":9,"y":62.6},{"c":12,"x":12.7,"y":62.6},{"c":12,"x":15.4,"y":64},{"c":12,"x":17,"y":64},{"c":12,"x":21,"y":63},{"c":12,"x":24.1,"y":63},{"c":12,"x":8,"y":61},{"c":12,"x":10.8,"y":61.5},{"c":12,"x":21.9,"y":60},
{"c":11,"x":23.2,"y":53},{"c":11,"x":23.7,"y":58},
{"c":2,"x":-4.2,"y":74},{"c":2,"x":11,"y":77},{"c":2,"x":25.5,"y":75},{"c":2,"x":27,"y":56.3},{"c":2,"x":26,"y":58},{"c":2,"x":21.3,"y":57.8},{"c":2,"x":5.5,"y":57.2},{"c":2,"x":7,"y":55},{"c":2,"x":9,"y":59},{"c":2,"x":9,"y":56.3},{"c":2,"x":10.3,"y":52.8},{"c":2,"x":8.5,"y":49.7},
{"c":2,"x":43.9,"y":63},{"c":2,"x":47.6,"y":62},{"c":2,"x":50.9,"y":64.5},{"c":2,"x":54.6,"y":63},{"c":2,"x":59.2,"y":64.9},{"c":2,"x":60.1,"y":62},{"c":2,"x":42,"y":59.2},{"c":2,"x":45.8,"y":59.2},{"c":2,"x":49.4,"y":59.2},{"c":2,"x":53.1,"y":59.2},{"c":2,"x":56.8,"y":59.2},{"c":2,"x":60.5,"y":59.2},{"c":2,"x":41,"y":57},{"c":2,"x":44,"y":57.5},{"c":2,"x":46.7,"y":55.3},{"c":2,"x":50.4,"y":55.3},{"c":2,"x":54,"y":55.3},{"c":2,"x":57.7,"y":55.3},{"c":2,"x":60,"y":55.3},{"c":2,"x":46,"y":51},{"c":2,"x":48.5,"y":51.4},{"c":2,"x":52.2,"y":51.4},{"c":2,"x":55.9,"y":51.4},{"c":2,"x":59.6,"y":52.4},{"c":2,"x":62.3,"y":52.4},{"c":2,"x":45.8,"y":47.6},{"c":2,"x":49.4,"y":47.6},{"c":2,"x":53,"y":47.6},{"c":2,"x":56.8,"y":47.6},{"c":2,"x":60.5,"y":47.6},{"c":2,"x":63.6,"y":48.6},{"c":2,"x":44,"y":44.7},{"c":2,"x":47.6,"y":44.7},{"c":2,"x":51.3,"y":43.7},{"c":2,"x":55,"y":43.7},{"c":2,"x":58.6,"y":43.7},{"c":2,"x":61.4,"y":44.7},{"c":2,"x":41.2,"y":43.7},{"c":2,"x":38.4,"y":50.5},{"c":2,"x":38,"y":46.6},{"c":2,"x":38.4,"y":43.7},{"c":2,"x":35.7,"y":41.8},{"c":2,"x":39.3,"y":40.8},{"c":2,"x":43,"y":41},{"c":2,"x":46,"y":41},{"c":2,"x":49.4,"y":39.9},{"c":2,"x":53,"y":39.9},{"c":2,"x":56.8,"y":39.9},{"c":2,"x":60.1,"y":40.8},{"c":2,"x":36.6,"y":38},{"c":2,"x":41.5,"y":37},{"c":2,"x":44.5,"y":37},{"c":2,"x":38.4,"y":35},{"c":2,"x":49.4,"y":37},{"c":2,"x":53,"y":36},{"c":2,"x":45.8,"y":35},{"c":2,"x":48.5,"y":34},{"c":2,"x":51,"y":34},{"c":2,"x":28.5,"y":37},{"c":2,"x":34,"y":36},{"c":2,"x":31,"y":34},{"c":2,"x":41,"y":34},{"c":2,"x":25.6,"y":33},{"c":2,"x":29.4,"y":33},{"c":2,"x":32.9,"y":33},{"c":2,"x":36.6,"y":33},{"c":2,"x":42,"y":33},{"c":2,"x":45.8,"y":32},{"c":2,"x":49.4,"y":32.2},{"c":2,"x":53,"y":33},{"c":2,"x":40,"y":31},
{"c":2,"x":24.6,"y":29.3},{"c":2,"x":28.3,"y":29.3},{"c":2,"x":32,"y":29.3},{"c":2,"x":35.7,"y":29.3},{"c":2,"x":39.3,"y":29.3},{"c":2,"x":43,"y":29.3},{"c":2,"x":46.7,"y":29.3},{"c":2,"x":50.4,"y":29.3},{"c":2,"x":54,"y":28.3},{"c":2,"x":57.7,"y":28.3},{"c":2,"x":60.1,"y":26.4},{"c":2,"x":25.6,"y":24.5},{"c":2,"x":29.2,"y":25.4},{"c":2,"x":33,"y":25.4},{"c":2,"x":36.6,"y":25.4},{"c":2,"x":40.3,"y":25.4},{"c":2,"x":44,"y":25.4},{"c":2,"x":47.6,"y":25.4},{"c":2,"x":51.3,"y":25.4},{"c":2,"x":55,"y":25.4},{"c":2,"x":58,"y":23.5},{"c":2,"x":27.4,"y":20.6},{"c":2,"x":25,"y":21},{"c":2,"x":22,"y":20},{"c":2,"x":31,"y":21.6},{"c":2,"x":34.7,"y":21.6},{"c":2,"x":38.4,"y":21.6},{"c":2,"x":42,"y":21.6},{"c":2,"x":45.8,"y":21.6},{"c":2,"x":49.4,"y":22.5},{"c":2,"x":53,"y":21.6},{"c":2,"x":55.9,"y":18.7},{"c":2,"x":49,"y":19},{"c":2,"x":49,"y":17},{"c":2,"x":23.7,"y":17.7},{"c":2,"x":27.4,"y":16.8},{"c":2,"x":31,"y":18.7},{"c":2,"x":34,"y":18},{"c":2,"x":38.4,"y":17.7},{"c":2,"x":42,"y":17.7},{"c":2,"x":45.8,"y":17.7},{"c":2,"x":52.2,"y":16.8},{"c":2,"x":56.8,"y":14.5},{"c":2,"x":54,"y":14.8},{"c":2,"x":19.1,"y":15.8},{"c":2,"x":21,"y":14.8},{"c":2,"x":23,"y":15},{"c":2,"x":24,"y":13},{"c":2,"x":15.4,"y":19.7},{"c":2,"x":17.3,"y":18.7},{"c":2,"x":18.2,"y":20.6},{"c":2,"x":26,"y":13.9},{"c":2,"x":29.4,"y":12.9},{"c":2,"x":40.3,"y":12},{"c":2,"x":42,"y":14},{"c":2,"x":46,"y":14},{"c":2,"x":44,"y":11},{"c":2,"x":43,"y":8},{"c":2,"x":42,"y":6},{"c":2,"x":45,"y":8},{"c":2,"x":38.4,"y":14},
{"c":11,"x":32.4,"y":16.2},{"c":11,"x":35.7,"y":13.9},{"c":2,"x":32.7,"y":9}
]},
"mark":{"type":"point","filled":true,"opacity":1,"size":2025,"strokeWidth":0,"clip":true},
"encoding":{
"x":{"field":"x","type":"quantitative","scale":{"domain":[-105.47,97.26],"nice":false,"zero":false},"axis":{"values":[-100,-50,0,50],"format":"d","labelPadding":37}},
"y":{"field":"y","type":"quantitative","scale":{"domain":[-104.1,95.84],"nice":false,"zero":false},"axis":{"values":[-100,-50,0,50],"format":"d","labelPadding":42,"labelOffset":6}},
"color":{"field":"c","type":"nominal","legend":null,"scale":{"domain":[1,2,3,4,5,6,7,8,9,10,11,12,13,14,15,16],"range":["#FFD700","#FFA00A","#266E00","#A66F00","#FFA6E3","#7E6BEF","#FF7F50","#5F9EA0","#3CB371","#DA70D6","#90EE90","#4682B4","#FFA45E","#9ACD32","#6B8E23","#6E7B58"]}}
}},
{"width":77,"height":1539.5,
"data":{"values":[{"c":1},{"c":2},{"c":3},{"c":4},{"c":5},{"c":6},{"c":7},{"c":8},{"c":9},{"c":10},{"c":11},{"c":12},{"c":13},{"c":14},{"c":15},{"c":16}]},
"layer":[
{"mark":{"type":"rect"},
"encoding":{
"y":{"field":"c","type":"ordinal","sort":"descending","scale":{"paddingInner":0,"paddingOuter":0},"axis":{"orient":"right","labelAngle":0,"labelPadding":37,"labelAlign":"left","labelBaseline":"middle","labelOffset":6}},
"color":{"field":"c","type":"nominal","legend":null,"scale":{"domain":[1,2,3,4,5,6,7,8,9,10,11,12,13,14,15,16],"range":["#FFD700","#FFA00A","#266E00","#A66F00","#FFA6E3","#7E6BEF","#FF7F50","#5F9EA0","#3CB371","#DA70D6","#90EE90","#4682B4","#FFA45E","#9ACD32","#6B8E23","#6E7B58"]}}
}},
{"data":{"values":[{"frame":1}]},"mark":{"type":"rect","fill":null,"stroke":"black","strokeWidth":9},"encoding":{}}
]}
]}
